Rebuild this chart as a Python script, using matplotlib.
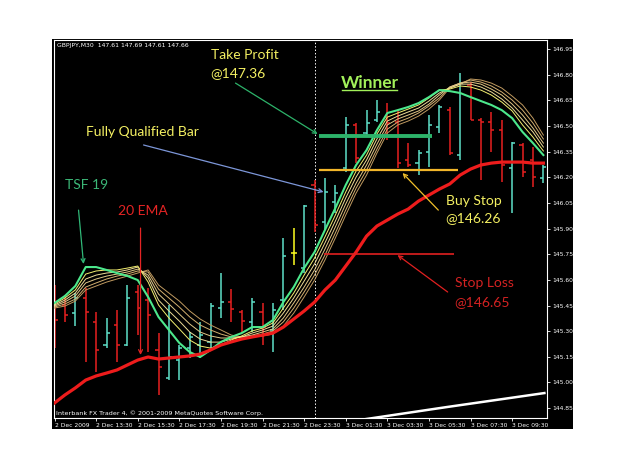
import numpy as np
import matplotlib.pyplot as plt
from matplotlib.patches import Rectangle
from matplotlib.lines import Line2D

# GBPJPY M30 bars, 2 Dec 2009 11:30 -> 3 Dec 2009 11:00
opens = [145.482, 145.453, 145.406, 145.494, 145.354, 145.219, 145.336, 145.219, 145.529, 145.482,
         145.190, 145.026, 145.131, 145.201, 145.219, 145.237, 145.435, 145.470, 145.412, 145.354,
         145.412, 145.307, 145.482, 145.757, 145.669, 146.155, 145.938, 146.055, 146.254, 146.506,
         146.459, 146.535, 146.552, 146.523, 146.301, 146.283, 146.348, 146.494, 146.593, 146.330,
         146.739, 146.535, 146.523, 146.476, 146.254, 146.389, 146.301, 146.196]
highs = [145.570, 145.511, 145.523, 145.552, 145.412, 145.377, 145.424, 145.570, 145.570, 145.552,
         145.289, 145.453, 145.219, 145.295, 145.354, 145.465, 145.640, 145.546, 145.424, 145.494,
         145.465, 145.465, 145.845, 145.903, 146.038, 146.184, 146.196, 146.155, 146.552, 146.517,
         146.593, 146.652, 146.634, 146.593, 146.400, 146.359, 146.564, 146.623, 146.611, 146.810,
         146.757, 146.546, 146.582, 146.535, 146.406, 146.400, 146.377, 146.272]
lows = [145.201, 145.354, 145.330, 145.120, 145.061, 145.201, 145.120, 145.213, 145.277, 145.178,
        144.927, 145.014, 145.014, 145.143, 145.143, 145.201, 145.377, 145.354, 145.295, 145.295,
        145.219, 145.178, 145.424, 145.687, 145.640, 145.880, 145.892, 145.991, 146.231, 146.283,
        146.435, 146.523, 146.418, 146.254, 146.260, 146.213, 146.260, 146.459, 146.330, 146.301,
        146.535, 146.184, 146.348, 146.172, 145.991, 146.201, 146.143, 146.166]
closes = [145.365, 145.394, 145.494, 145.412, 145.190, 145.289, 145.219, 145.494, 145.435, 145.394,
          145.090, 145.149, 145.201, 145.266, 145.277, 145.447, 145.470, 145.430, 145.359, 145.470,
          145.324, 145.424, 145.739, 145.757, 146.032, 145.921, 146.114, 146.108, 146.506, 146.313,
          146.517, 146.582, 146.517, 146.283, 146.272, 146.342, 146.506, 146.611, 146.342, 146.751,
          146.535, 146.523, 146.476, 146.272, 146.400, 146.231, 146.201, 146.260]

# indicators
ema20 = [144.880, 144.927, 144.968, 145.014, 145.038, 145.055, 145.073, 145.102, 145.131, 145.149,
         145.137, 145.143, 145.149, 145.155, 145.166, 145.190, 145.219, 145.237, 145.254, 145.266,
         145.277, 145.289, 145.324, 145.371, 145.418, 145.470, 145.541, 145.599, 145.681, 145.763,
         145.856, 145.915, 145.950, 145.985, 146.014, 146.061, 146.096, 146.131, 146.161, 146.213,
         146.248, 146.272, 146.283, 146.289, 146.289, 146.289, 146.283, 146.283]
tsf19 = [145.465, 145.506, 145.564, 145.675, 145.675, 145.658, 145.640, 145.623, 145.599, 145.500,
         145.383, 145.307, 145.231, 145.178, 145.149, 145.190, 145.237, 145.266, 145.289, 145.324,
         145.324, 145.365, 145.470, 145.558, 145.669, 145.763, 145.892, 146.020, 146.155, 146.272,
         146.359, 146.476, 146.576, 146.593, 146.611, 146.634, 146.669, 146.710, 146.704, 146.693,
         146.669, 146.646, 146.623, 146.593, 146.546, 146.465, 146.400, 146.330]
fan1 = [145.459, 145.494, 145.541, 145.634, 145.652, 145.658, 145.658, 145.669, 145.681, 145.587,
        145.453, 145.377, 145.313, 145.248, 145.213, 145.201, 145.219, 145.248, 145.272, 145.301,
        145.318, 145.348, 145.435, 145.523, 145.628, 145.728, 145.851, 145.979, 146.114, 146.237,
        146.330, 146.453, 146.552, 146.576, 146.599, 146.623, 146.664, 146.710, 146.716, 146.734,
        146.728, 146.710, 146.681, 146.640, 146.588, 146.506, 146.435, 146.354]
fan2 = [145.453, 145.482, 145.523, 145.605, 145.628, 145.640, 145.646, 145.658, 145.675, 145.611,
        145.482, 145.418, 145.359, 145.295, 145.254, 145.236, 145.236, 145.254, 145.266, 145.289,
        145.307, 145.330, 145.406, 145.494, 145.593, 145.693, 145.816, 145.944, 146.079, 146.202,
        146.301, 146.424, 146.529, 146.558, 146.582, 146.605, 146.646, 146.693, 146.722, 146.745,
        146.745, 146.728, 146.699, 146.658, 146.605, 146.535, 146.465, 146.377]
fan3 = [145.447, 145.471, 145.506, 145.582, 145.605, 145.622, 145.634, 145.646, 145.663, 145.628,
        145.517, 145.459, 145.400, 145.342, 145.295, 145.272, 145.260, 145.260, 145.266, 145.277,
        145.295, 145.313, 145.377, 145.465, 145.558, 145.658, 145.780, 145.909, 146.044, 146.166,
        146.272, 146.394, 146.506, 146.541, 146.564, 146.588, 146.628, 146.681, 146.728, 146.751,
        146.757, 146.745, 146.716, 146.681, 146.628, 146.564, 146.488, 146.400]
fan4 = [145.441, 145.459, 145.488, 145.558, 145.582, 145.605, 145.622, 145.634, 145.652, 145.646,
        145.546, 145.494, 145.441, 145.383, 145.336, 145.307, 145.283, 145.266, 145.266, 145.272,
        145.283, 145.301, 145.354, 145.435, 145.529, 145.628, 145.745, 145.874, 146.009, 146.137,
        146.242, 146.365, 146.482, 146.523, 146.546, 146.576, 146.617, 146.664, 146.728, 146.751,
        146.769, 146.757, 146.734, 146.699, 146.652, 146.593, 146.517, 146.424]
fan5 = [145.435, 145.447, 145.476, 145.541, 145.564, 145.587, 145.605, 145.622, 145.640, 145.658,
        145.570, 145.523, 145.476, 145.418, 145.371, 145.336, 145.307, 145.277, 145.266, 145.266,
        145.272, 145.283, 145.330, 145.406, 145.500, 145.599, 145.716, 145.845, 145.979, 146.108,
        146.213, 146.342, 146.459, 146.506, 146.529, 146.558, 146.599, 146.652, 146.722, 146.745,
        146.775, 146.769, 146.751, 146.722, 146.675, 146.623, 146.546, 146.447]
fan_colors = ['#F4F070', '#EEDC98', '#E2C888', '#D4B070', '#C09A60']

# white trend line at the bottom (bar index, price)
trend_x = [29.3, 37.7, 47.1]
trend_y = [144.780, 144.856, 144.938]

# order levels: price, start bar, end bar
tp_level, tp_from, tp_to = 146.441, 25.4, 36.3
bs_level, bs_from, bs_to = 146.242, 25.4, 38.8
sl_level, sl_from, sl_to = 145.751, 25.9, 38.4
day_break = 25

time_labels = ["2 Dec 2009", "2 Dec 13:30", "2 Dec 15:30", "2 Dec 17:30", "2 Dec 19:30",
               "2 Dec 21:30", "2 Dec 23:30", "3 Dec 01:30", "3 Dec 03:30", "3 Dec 05:30",
               "3 Dec 07:30", "3 Dec 09:30"]
time_ticks = [0, 4, 8, 12, 16, 20, 24, 28, 32, 36, 40, 44]
price_ticks = [146.95, 146.80, 146.65, 146.50, 146.35, 146.20, 146.05, 145.90,
               145.75, 145.60, 145.45, 145.30, 145.15, 145.00, 144.85]

fig = plt.figure(figsize=(6.25, 4.69), dpi=100)
fig.patch.set_facecolor('white')
fig.patches.append(Rectangle((0.0832, 0.0853), 0.8336, 0.8316, transform=fig.transFigure,
                             facecolor='black', edgecolor='none', zorder=-10))
ax = fig.add_axes([0.0864, 0.1087, 0.7888, 0.806])
ax.set_zorder(5)
ax.set_facecolor('black')

x = np.arange(len(opens))
bar_colors = []
for o, c in zip(opens, closes):
    if c > o:
        bar_colors.append('#5FE0C8')
    elif c < o:
        bar_colors.append('#E82020')
    else:
        bar_colors.append('#FFFF20')
ax.vlines(x, lows, highs, colors=bar_colors, lw=1.1, zorder=2)
ax.hlines(opens, x - 0.3, x, colors=bar_colors, lw=1.1, zorder=2)
ax.hlines(closes, x, x + 0.3, colors=bar_colors, lw=1.1, zorder=2)

# indicator lines
for fan, col in zip([fan5, fan4, fan3, fan2, fan1], fan_colors[::-1]):
    ax.plot(x, fan, color=col, lw=0.7, zorder=3)
ax.plot(x, tsf19, color='#4CE88C', lw=1.5, zorder=4)
ax.plot(x, ema20, color='#EE1C1C', lw=2.3, zorder=4)
ax.plot(trend_x, trend_y, color='white', lw=1.8, zorder=4)

# order levels and day separator
ax.hlines(tp_level, tp_from, tp_to, color='#2DB36A', lw=2.8, zorder=5)
ax.hlines(bs_level, bs_from, bs_to, color='#F2B62A', lw=1.6, zorder=5)
ax.hlines(sl_level, sl_from, sl_to, color='#E02020', lw=1.2, zorder=5)
ax.axvline(day_break, color='white', lw=0.7, ls=(0, (1.5, 2)), zorder=1)

ax.set_xlim(-0.05, 47.35)
ax.set_ylim(144.792, 147.003)

# axes style (MT4 look)
for s in ax.spines.values():
    s.set_color('white')
    s.set_linewidth(0.8)
ax.yaxis.tick_right()
ax.set_yticks(price_ticks)
ax.set_yticklabels(['%.2f' % p for p in price_ticks])
ax.set_xticks(time_ticks)
ax.set_xticklabels(time_labels)
for lab in ax.get_xticklabels():
    lab.set_ha('left')
ax.tick_params(colors='white', labelsize=4.3, length=2.5, width=0.6, pad=1.2)

# annotations: text, text position, colour, size
yellow = '#F4F062'
red = '#E42424'
font = 'Lato'
ax.text(15.0, 146.915, 'Take Profit', color=yellow, fontsize=10, family=font, va='center')
ax.text(15.0, 146.810, '@147.36', color=yellow, fontsize=10, family=font, va='center')
ax.text(2.98, 146.465, 'Fully Qualified Bar', color=yellow, fontsize=10, family=font, va='center')
ax.text(0.96, 146.155, 'TSF 19', color='#3CB878', fontsize=10, family=font, va='center')
ax.text(6.06, 146.003, '20 EMA', color=red, fontsize=10, family=font, va='center')
ax.text(37.6, 146.061, 'Buy Stop', color=yellow, fontsize=10, family=font, va='center')
ax.text(37.6, 145.962, '@146.26', color=yellow, fontsize=10, family=font, va='center')
ax.text(38.46, 145.582, 'Stop Loss', color='#D42222', fontsize=10, family=font, va='center')
ax.text(38.46, 145.470, '@146.65', color='#D42222', fontsize=10, family=font, va='center')
winner = ax.text(27.5, 146.751, 'Winner', color='#A2F05A', fontsize=12.5, family=font,
                 weight='bold', va='center')

# arrows: (start, end, colour)
arrows = [((17.4, 146.751), (25.3, 146.453), '#2DB36A'),
          ((8.56, 146.389), (25.87, 146.114), '#7C96D8'),
          ((2.31, 146.008), (2.79, 145.693), '#30B878'),
          ((8.27, 145.903), (8.27, 145.161), '#E42424'),
          ((36.9, 146.008), (33.46, 146.225), '#F2C02A'),
          ((37.8, 145.529), (32.98, 145.745), '#E02020')]
for start, end, col in arrows:
    ax.annotate('', xy=end, xytext=start,
                arrowprops=dict(arrowstyle='->', color=col, lw=0.9, mutation_scale=7,
                                shrinkA=0, shrinkB=0), zorder=6)

# terminal header / footer
fig.text(57 / 625, 1 - 46 / 469, 'GBPJPY,M30  147.61 147.69 147.61 147.66',
         color='white', fontsize=4.4, va='center', zorder=10)
fig.text(56 / 625, 1 - 413 / 469, 'Interbank FX Trader 4, \u00a9 2001-2009 MetaQuotes Software Corp.',
         color='white', fontsize=4.6, va='center', zorder=10)

# underline for "Winner"
fig.canvas.draw()
bb = winner.get_window_extent().transformed(fig.transFigure.inverted())
fig.add_artist(Line2D([bb.x0 + 0.002, bb.x1 - 0.002], [bb.y0 + 0.002, bb.y0 + 0.002],
                      color='#A2F05A', lw=1.0, transform=fig.transFigure, zorder=10))

fig.savefig('out.png', dpi=100, facecolor='white')
